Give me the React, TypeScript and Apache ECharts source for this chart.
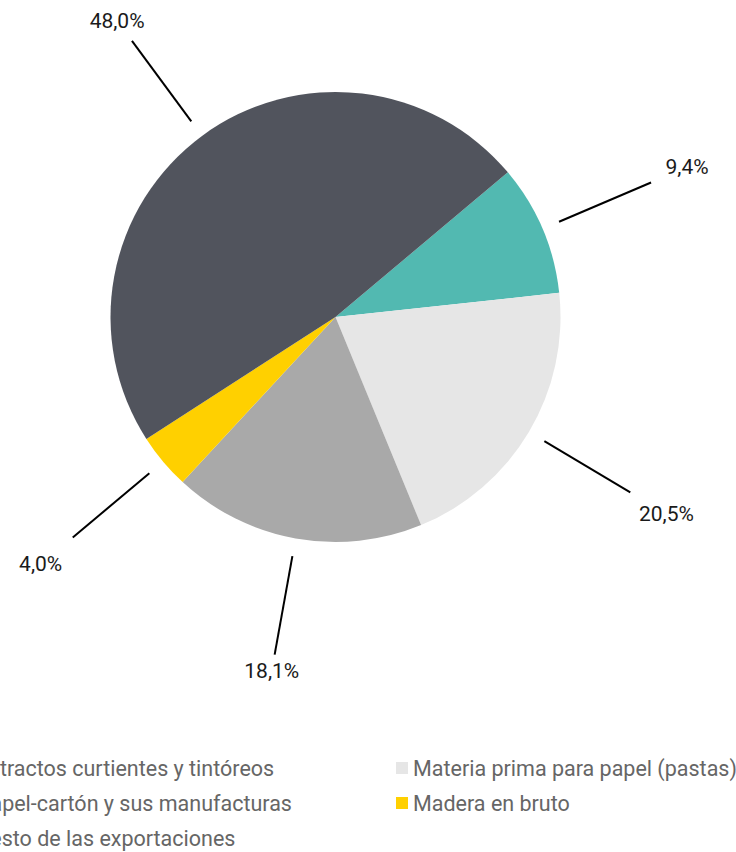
import React, { useEffect, useRef } from "react";
import * as echarts from "echarts";

const categories = [
  "Extractos curtientes y tintóreos",
  "Materia prima para papel (pastas)",
  "Papel-cartón y sus manufacturas",
  "Madera en bruto",
  "Resto de las exportaciones",
];
const values = [9.4, 20.5, 18.1, 4.0, 48.0];
const colors = ["#52b9b1", "#e6e6e6", "#a9a9a9", "#ffd000", "#51545d"];
const legendCol1 = [categories[0], categories[2], categories[4]];
const legendCol2 = [categories[1], categories[3]];

const CX = 335.5;
const CY = 317;
const START = 40;

const fmt = (v: number) => v.toFixed(1).replace(".", ",") + "%";

export default function App() {
  const ref = useRef<HTMLDivElement>(null);
  useEffect(() => {
    document.body.style.margin = "0";
    const chart = echarts.init(ref.current!, null, { renderer: "svg" });
    const visibleData = categories.map((name, i) => ({
      name,
      value: values[i],
      itemStyle: { color: colors[i] },
    }));
    const ghostData = categories.map((name, i) => ({
      name,
      value: values[i],
      itemStyle: { color: "rgba(0,0,0,0)" },
    }));
    const legendBase = {
      orient: "vertical" as const,
      top: 757,
      height: 120,
      padding: 0,
      itemWidth: 12,
      itemHeight: 12,
      itemGap: 13,
      icon: "rect",
      selectedMode: false,
      textStyle: {
        fontFamily: "Roboto",
        fontSize: 21.5,
        color: "#666666",
        lineHeight: 21,
      },
    };
    const mkLegendData = (names: string[]) =>
      names.map((n) => ({
        name: n,
        itemStyle: { color: colors[categories.indexOf(n)] },
      }));
    chart.setOption({
      animation: false,
      backgroundColor: "#ffffff",
      legend: [
        { ...legendBase, left: -40, data: mkLegendData(legendCol1) },
        { ...legendBase, left: 396, data: mkLegendData(legendCol2) },
      ],
      series: [
        {
          type: "pie",
          center: [CX, CY],
          radius: 225,
          startAngle: START,
          clockwise: true,
          silent: true,
          avoidLabelOverlap: false,
          label: { show: false },
          labelLine: { show: false },
          itemStyle: { borderWidth: 0 },
          emphasis: { disabled: true },
          data: visibleData,
        },
        {
          type: "pie",
          center: [CX, CY],
          radius: 243,
          startAngle: START,
          clockwise: true,
          silent: true,
          avoidLabelOverlap: false,
          label: { show: true, position: "outside", formatter: " ", fontSize: 4 },
          labelLine: {
            show: true,
            length: 100,
            length2: 0,
            lineStyle: { color: "#000000", width: 2 },
          },
          emphasis: { disabled: true },
          data: ghostData,
        },
        {
          type: "pie",
          center: [CX, CY],
          radius: [352, 354],
          startAngle: START,
          clockwise: true,
          silent: true,
          avoidLabelOverlap: false,
          label: {
            show: true,
            position: "inside",
            formatter: (p: any) => fmt(p.value),
            fontFamily: "Roboto",
            fontSize: 21,
            color: "#1a1a1a",
          },
          labelLine: { show: false },
          labelLayout: (p: any) => {
            const r = p.labelRect;
            const lx = r.x + r.width / 2;
            const ly = r.y + r.height / 2;
            const ux = lx - CX;
            const uy = ly - CY;
            const len = Math.hypot(ux, uy) || 1;
            const nx = ux / len;
            const ny = uy / len;
            const target = 345 + 45 * Math.abs(nx) + 6 * ny - 2 * nx;
            const dr = target - len;
            return { dx: nx * dr, dy: ny * dr };
          },
          emphasis: { disabled: true },
          data: ghostData,
        },
      ],
    });
    return () => chart.dispose();
  }, []);
  return <div ref={ref} style={{ width: 736, height: 852 }} />;
}
